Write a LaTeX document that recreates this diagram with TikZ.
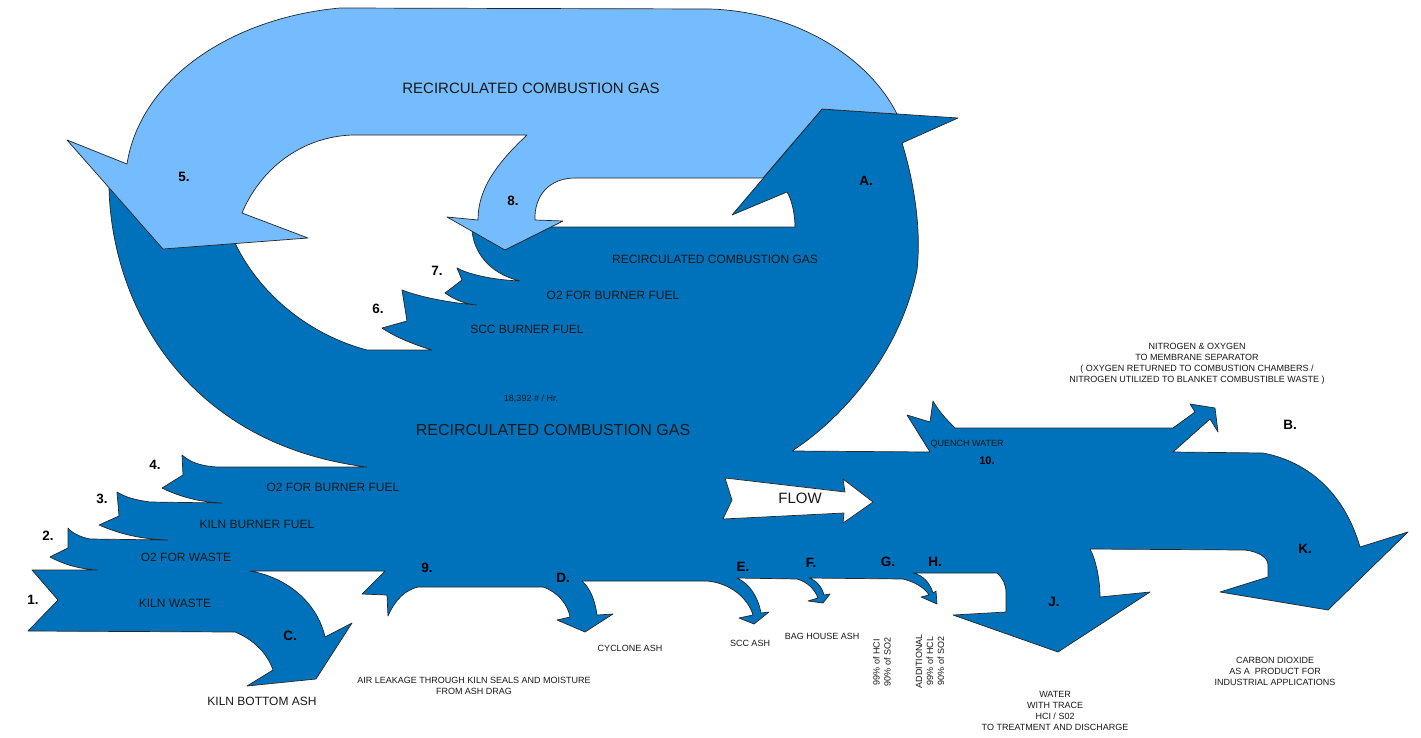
\documentclass[tikz,border=0pt]{standalone}
\usepackage{fontspec}
\setmainfont{Liberation Sans}
\definecolor{darkflow}{RGB}{0,114,188}
\definecolor{lightflow}{RGB}{116,188,253}
\tikzset{
  darkband/.style={fill=darkflow, draw=black!85, line width=0.7pt, line join=round},
  lightband/.style={fill=lightflow, draw=black!85, line width=0.7pt, line join=round},
  flowarrow/.style={fill=white, draw=black!85, line width=0.7pt, line join=round},
  lbl/.style={inner sep=0pt, text=black!90, font=\fontsize{12}{14}\selectfont},
  biglbl/.style={inner sep=0pt, text=black!90, font=\fontsize{15}{18}\selectfont},
  num/.style={inner sep=0pt, text=black, font=\bfseries\fontsize{13.5}{16}\selectfont},
  small/.style={inner sep=0pt, text=black!90, align=center, font=\fontsize{9}{11}\selectfont},
}
\begin{document}
\begin{tikzpicture}[x=1pt,y=-1pt]
\fill[white] (0,0) rectangle (1421,737);
\useasboundingbox (0,0) rectangle (1421,737);

% dark blue main flow
\path[darkband] (109,188)
 .. controls (112,310) and (190,445) .. (367,467)
 -- (217,467) .. controls (200,466) and (190,462) .. (182,455)
 -- (183,475) -- (162,488)
 .. controls (180,497) and (200,502) .. (222,503)
 -- (150,502) .. controls (135,500) and (125,497) .. (117,492)
 -- (119,516) -- (99,525)
 .. controls (120,534) and (140,539) .. (168,540)
 -- (90,539) .. controls (80,537) and (72,533) .. (68,528)
 -- (68,548) -- (50,557)
 .. controls (65,565) and (80,569) .. (98,570)
 -- (32,570) -- (58,600) -- (28,631) -- (235,632)
 .. controls (255,640) and (268,655) .. (273,670)
 -- (247,686) -- (316,679) -- (352,623) -- (325,637)
 .. controls (318,605) and (290,578) .. (250,571)
 -- (385,571) -- (362,594) -- (387,595) -- (388,616)
 .. controls (395,600) and (405,590) .. (418,587)
 -- (543,587)
 .. controls (558,592) and (568,605) .. (570,617)
 -- (557,620) -- (585,632) -- (613,614) -- (597,615)
 .. controls (595,600) and (590,588) .. (582,581)
 -- (707,581)
 .. controls (730,583) and (748,598) .. (753,615)
 -- (739,618) -- (754,624) -- (769,612) -- (761,613)
 .. controls (758,597) and (750,584) .. (737,578)
 -- (797,579)
 .. controls (808,582) and (815,590) .. (818,598)
 -- (808,601) -- (823,603) -- (830,594) -- (824,595)
 .. controls (822,587) and (816,580) .. (809,578)
 -- (903,579)
 .. controls (915,582) and (925,588) .. (929,595)
 -- (921,597) -- (937,604) -- (936,591) -- (933,593)
 .. controls (930,583) and (923,575) .. (913,573)
 -- (997,573)
 .. controls (1003,578) and (1006,585) .. (1006,593)
 -- (1006,612) -- (953,615) -- (1058,652) -- (1150,592) -- (1100,597)
 .. controls (1100,580) and (1096,560) .. (1090,549)
 -- (1245,550)
 .. controls (1260,552) and (1268,558) .. (1268,565)
 -- (1268,577) -- (1220,592) -- (1328,610) -- (1408,532) -- (1360,547)
 .. controls (1345,495) and (1310,462) .. (1263,453)
 -- (1173,452) -- (1210,419) -- (1218,432) -- (1215,408) -- (1190,404) -- (1195,412) -- (1173,428)
 -- (955,428) .. controls (945,418) and (938,410) .. (933,401)
 -- (930,422) -- (907,415) -- (930,452) -- (792,451)
 .. controls (840,420) and (900,355) .. (917,270)
 .. controls (922,225) and (912,175) .. (902,143)
 -- (958,118) -- (822,109) -- (732,215) -- (787,192)
 .. controls (792,200) and (795,215) .. (795,227)
 -- (551,227) -- (505,245) -- (472,231)
 .. controls (475,258) and (495,275) .. (520,281)
 .. controls (495,280) and (470,275) .. (457,268)
 -- (462,280) -- (445,293)
 .. controls (455,300) and (465,304) .. (477,305)
 .. controls (450,303) and (420,297) .. (402,290)
 -- (407,321) -- (382,328)
 .. controls (395,337) and (415,345) .. (432,350)
 -- (367,350)
 .. controls (310,335) and (260,295) .. (235,243)
 -- (160,235) -- cycle;

% light blue recirculation
\path[lightband] (340,8) -- (710,9)
 .. controls (800,12) and (870,60) .. (897,114)
 -- (822,109) -- (763,178) -- (575,178)
 .. controls (550,178) and (534,195) .. (535,220)
 -- (563,221) -- (505,250) -- (447,217) -- (478,220)
 .. controls (478,190) and (495,165) .. (527,135)
 -- (352,135) .. controls (300,137) and (260,170) .. (242,213)
 -- (308,238) -- (163,249) -- (67,140) -- (127,164)
 .. controls (140,80) and (230,18) .. (340,8) -- cycle;

% FLOW arrow
\path[flowarrow] (725,478) -- (845,492) -- (843,479) -- (873,502) -- (843,523) -- (844,513) -- (723,519) -- (732,500) -- cycle;
\node[biglbl] (flow) at (800,498) {FLOW};

% labels
\node[biglbl] (rcgtop) at (531,88) {RECIRCULATED COMBUSTION GAS};
\node[num] (n5) at (184,177) {5.};
\node[num] (n8) at (513,201) {8.};
\node[num] (nA) at (866,181) {A.};
\node[lbl] (rcgmid) at (715,259) {RECIRCULATED COMBUSTION GAS};
\node[num] (n7) at (437,271) {7.};
\node[lbl] (o2b1) at (613,295) {O2 FOR BURNER FUEL};
\node[num] (n6) at (378,309) {6.};
\node[lbl] (sccbf) at (527,329) {SCC BURNER FUEL};
\node[small] (rate) at (531,399) {18,392 \# / Hr.};
\node[inner sep=0pt, text=black!90, font=\fontsize{16}{19}\selectfont] (rcglow) at (553,430) {RECIRCULATED COMBUSTION GAS};
\node[num] (n4) at (155,465) {4.};
\node[lbl] (o2b2) at (333,487) {O2 FOR BURNER FUEL};
\node[num] (n3) at (102,499) {3.};
\node[lbl] (kbf) at (257,524) {KILN BURNER FUEL};
\node[num] (n2) at (48,536) {2.};
\node[lbl] (o2w) at (186,557) {O2 FOR WASTE};
\node[num] (n1) at (33,600) {1.};
\node[lbl] (kw) at (175,603) {KILN WASTE};
\node[num] (nC) at (290,636) {C.};
\node[lbl] (kba) at (262,701) {KILN BOTTOM ASH};
\node[num] (n9) at (427,568) {9.};
\node[small] (air) at (474,686) {AIR LEAKAGE THROUGH KILN SEALS AND MOISTURE\\FROM ASH DRAG};
\node[num] (nD) at (563,578) {D.};
\node[small] (cyc) at (630,648) {CYCLONE ASH};
\node[num] (nE) at (743,567) {E.};
\node[small] (scc) at (750,643) {SCC ASH};
\node[num] (nF) at (811,563) {F.};
\node[small] (bag) at (822,636) {BAG HOUSE ASH};
\node[num] (nG) at (888,562) {G.};
\node[num] (nH) at (935,562) {H.};
\node[small, rotate=90] (g1) at (882,662) {99\% of HCI\\90\% of SO2};
\node[small, rotate=90] (h1) at (930,661) {ADDITIONAL\\99\% of HCL\\90\% of SO2};
\node[num] (nJ) at (1054,602) {J.};
\node[num] (nK) at (1305,549) {K.};
\node[num] (nB) at (1290,425) {B.};
\node[small] (qw) at (967,444) {QUENCH WATER};
\node[num, font=\bfseries\fontsize{11}{13}\selectfont] (n10) at (987,461) {10.};
\node[small] (nit) at (1197,364) {NITROGEN \& OXYGEN\\TO MEMBRANE SEPARATOR\\( OXYGEN RETURNED TO COMBUSTION CHAMBERS /\\NITROGEN UTILIZED TO BLANKET COMBUSTIBLE WASTE )};
\node[small] (wat) at (1055,711) {WATER\\WITH TRACE\\HCI / S02\\TO TREATMENT AND DISCHARGE};
\node[small] (co2) at (1275,671) {CARBON DIOXIDE\\AS A\ \ PRODUCT FOR\\INDUSTRIAL APPLICATIONS};
\end{tikzpicture}
\end{document}
